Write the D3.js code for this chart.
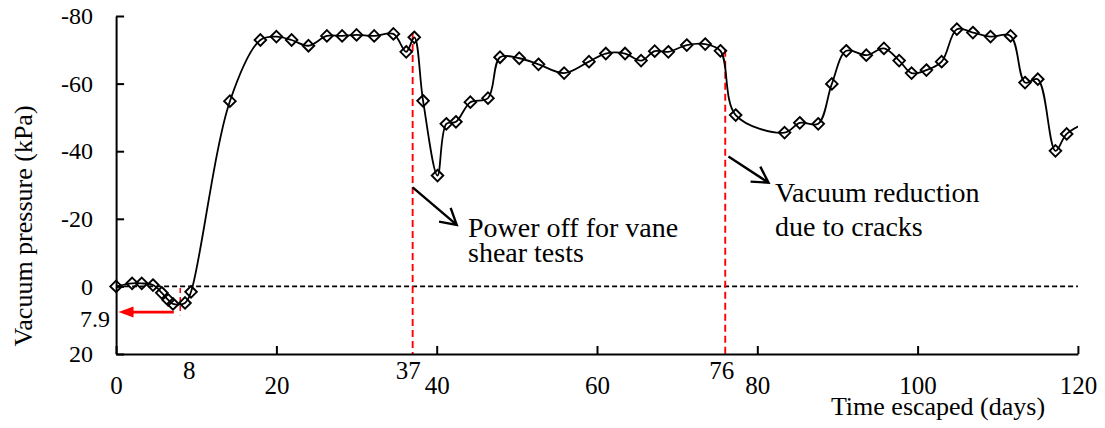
<!DOCTYPE html>
<html>
<head>
<meta charset="utf-8">
<script src="https://cdn.jsdelivr.net/npm/d3@7/dist/d3.min.js"></script>
<style>
  html, body { margin: 0; padding: 0; background: #fff; }
  svg { display: block; }
  text { font-family: "Liberation Serif", "Times New Roman", serif; fill: #000; }
</style>
</head>
<body>
<svg id="chart" width="1105" height="428"></svg>
<script>
// ---- data ----
const days = [0, 2.0, 3.2, 4.6, 5.7, 6.5, 7.1, 8.6, 9.35, 14.2, 18.0, 20.0, 21.9, 24.0, 26.3, 28.2, 30.0, 32.2, 34.6, 36.2, 37.2,
  38.3, 40.1, 41.2, 42.4, 44.2, 46.4, 47.9, 50.3, 52.7, 55.9, 59.0, 61.1, 63.5, 65.5, 67.2, 68.9, 71.2, 73.5, 75.4,
  77.3, 83.4, 85.3, 87.6, 89.3, 91.1, 93.6, 95.8, 97.7, 99.25, 101.1, 103.0, 104.9, 106.9, 109.1, 111.6, 113.4, 115.0,
  117.2, 118.6, 121.5];
const pressure = [0, -0.9, -0.9, -0.4, 1.9, 4.0, 5.2, 4.9, 1.6, -54.8, -72.9, -73.9, -72.9, -71.2, -74.1, -74.1, -74.4, -74.1, -74.7, -69.4, -73.7,
  -54.9, -32.8, -48.1, -48.7, -54.5, -55.7, -67.8, -67.5, -65.7, -63.1, -66.5, -68.9, -68.9, -66.8, -69.6, -69.4, -71.4, -71.7, -69.7,
  -50.7, -45.5, -48.4, -48.1, -59.9, -69.7, -68.4, -70.4, -66.8, -63.1, -64.0, -66.5, -76.1, -75.1, -73.9, -74.1, -60.3, -61.3,
  -40.1, -45.1, -49.0];
const xTicks = [0, 20, 40, 60, 80, 100, 120];
const yTicks = [-80, -60, -40, -20, 0, 20];
const eventDays = [37, 76];          // power off, cracks
const eventTops = [-75, -70];        // where the red dashed markers start
const extraXLabels = ["8", "37", "76"];
const extraXDays = [8, 37, 76];
const startDay = 8;
const startValue = 7.9;
const annotationLines1 = ["Power off for vane", "shear tests"];
const annotationLines2 = ["Vacuum reduction", "due to cracks"];

// ---- layout ----
const W = 1105, H = 428;
const x = d3.scaleLinear().domain([0, 120]).range([116.1, 1077.9]);
const y = d3.scaleLinear().domain([-80, 20]).range([16, 354]);
const svg = d3.select("#chart");

const pts = days.map((d, i) => [d, pressure[i]]);

// clip for the curve
svg.append("defs").append("clipPath").attr("id", "plotclip")
  .append("rect").attr("x", 0).attr("y", 0).attr("width", x(120)).attr("height", H);

// zero dashed line
svg.append("line")
  .attr("x1", x(0)).attr("x2", x(120)).attr("y1", y(0)).attr("y2", y(0))
  .attr("stroke", "#000").attr("stroke-width", 1.7).attr("stroke-dasharray", "5,3");

// red event lines
eventDays.forEach((d, i) => {
  svg.append("line")
    .attr("x1", x(d)).attr("x2", x(d)).attr("y1", y(eventTops[i])).attr("y2", y(20))
    .attr("stroke", "#ff0000").attr("stroke-width", 1.9).attr("stroke-dasharray", "7,4");
});

// red line at day 8 and arrow to 7.9
svg.append("line")
  .attr("x1", x(startDay)).attr("x2", x(startDay)).attr("y1", y(0.5)).attr("y2", y(8.5))
  .attr("stroke", "#ff0000").attr("stroke-width", 1.5).attr("stroke-dasharray", "5,4");
const ay = y(startValue) - 1;
const tipX = x(0.3);
svg.append("line")
  .attr("x1", x(7.2)).attr("x2", tipX + 12).attr("y1", ay).attr("y2", ay)
  .attr("stroke", "#ff0000").attr("stroke-width", 2.8);
svg.append("path")
  .attr("d", `M${tipX},${ay}L${tipX + 15},${ay - 5.5}L${tipX + 15},${ay + 5.5}Z`)
  .attr("fill", "#ff0000");

// data curve
const line = d3.line().x(d => x(d[0])).y(d => y(d[1])).curve(d3.curveCatmullRom.alpha(0.5));
svg.append("path").datum(pts)
  .attr("clip-path", "url(#plotclip)")
  .attr("d", line).attr("fill", "none").attr("stroke", "#000").attr("stroke-width", 1.8);

// diamonds
const r = 5.8;
svg.append("g").selectAll("path").data(pts.filter(d => d[0] <= 120)).join("path")
  .attr("transform", d => `translate(${x(d[0])},${y(d[1])})`)
  .attr("d", `M0,${-r}L${r},0L0,${r}L${-r},0Z`)
  .attr("fill", "none").attr("stroke", "#000").attr("stroke-width", 1.9);

// axes
const xAxis = d3.axisBottom(x).tickValues(xTicks).tickSizeInner(-8).tickSizeOuter(0).tickPadding(22).tickFormat(d => String(d));
const gx = svg.append("g").attr("transform", `translate(0,${y(20)})`).call(xAxis);
gx.selectAll("text").attr("font-size", 25).attr("font-family", "Liberation Serif, serif");
const yAxis = d3.axisLeft(y).tickValues(yTicks).tickSizeInner(-8).tickSizeOuter(0).tickPadding(23).tickFormat(d => String(d));
const gy = svg.append("g").attr("transform", `translate(${x(0)},0)`).call(yAxis);
gy.selectAll("text").attr("font-size", 24).attr("font-family", "Liberation Serif, serif");
[gx, gy].forEach(g => {
  g.select(".domain").attr("stroke-width", 2);
  g.selectAll(".tick line").attr("stroke-width", 2);
});

// extra x labels (8, 37, 76)
const extraOffsets = [9, -4.5, -3.5];
extraXDays.forEach((d, i) => {
  svg.append("text").attr("x", x(d) + extraOffsets[i]).attr("y", 379)
    .attr("text-anchor", "middle").attr("font-size", 25).text(extraXLabels[i]);
});
// 7.9 label
svg.append("text").attr("x", 110).attr("y", y(startValue) + 13.5)
  .attr("text-anchor", "end").attr("font-size", 24).text(String(startValue));

// axis titles
svg.append("text").attr("x", 938).attr("y", 415).attr("text-anchor", "middle")
  .attr("font-size", 26).text("Time escaped (days)");
svg.append("text").attr("transform", "translate(32,226) rotate(-90)").attr("text-anchor", "middle")
  .attr("font-size", 26).text("Vacuum pressure (kPa)");

// black arrows
function arrow(fromD, fromV, toD, toV) {
  const x1 = x(fromD), y1 = y(fromV), x2 = x(toD), y2 = y(toV);
  const ang = Math.atan2(y1 - y2, x1 - x2);
  const L = 18, a = 0.52;
  const p1 = [x2 + L * Math.cos(ang - a), y2 + L * Math.sin(ang - a)];
  const p2 = [x2 + L * Math.cos(ang + a), y2 + L * Math.sin(ang + a)];
  svg.append("path")
    .attr("d", `M${x1},${y1}L${x2},${y2}M${p1[0]},${p1[1]}L${x2},${y2}L${p2[0]},${p2[1]}`)
    .attr("fill", "none").attr("stroke", "#000").attr("stroke-width", 2.4);
}
arrow(37, -29.3, 42.5, -18.2);
arrow(76.4, -38.4, 81.4, -30.7);

// annotation texts
svg.append("text").attr("x", 468).attr("y", 237).attr("font-size", 28).text(annotationLines1[0]);
svg.append("text").attr("x", 468).attr("y", 262).attr("font-size", 28).text(annotationLines1[1]);
svg.append("text").attr("x", 775).attr("y", 202).attr("font-size", 28).text(annotationLines2[0]);
svg.append("text").attr("x", 775).attr("y", 235.5).attr("font-size", 28).text(annotationLines2[1]);
</script>
</body>
</html>
